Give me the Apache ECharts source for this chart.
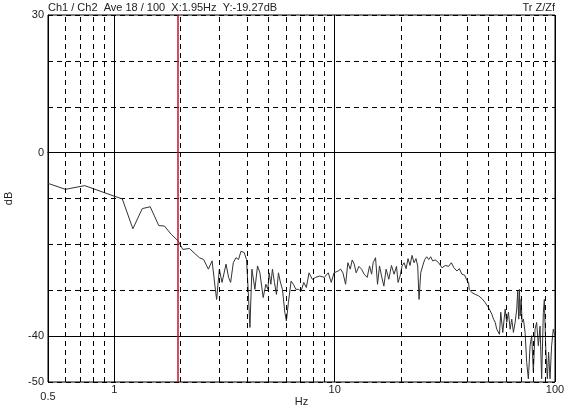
<!DOCTYPE html>
<html>
<head>
<meta charset="utf-8">
<script src="https://cdn.jsdelivr.net/npm/echarts@6/dist/echarts.min.js"></script>
<style>
  html, body { margin: 0; padding: 0; background: #fff; }
  #chart { width: 570px; height: 414px; }
</style>
</head>
<body>
<div id="chart"></div>
<script>
// Transfer function magnitude
var freqs = [
    0.5, 0.6, 0.734, 1.0, 1.087, 1.214, 1.339, 1.455, 1.591, 1.689, 1.811, 1.95,
    2.044, 2.191, 2.432, 2.543, 2.672, 2.777, 2.864, 2.913, 2.996, 3.082, 3.213, 3.301,
    3.371, 3.467, 3.565, 3.663, 3.756, 3.887, 3.981, 4.053, 4.125, 4.211, 4.345, 4.465,
    4.578, 4.738, 4.873, 4.975, 5.043, 5.133, 5.219, 5.33, 5.442, 5.557, 5.656, 5.793,
    5.94, 6.039, 6.166, 6.343, 6.497, 6.661, 6.844, 7.039, 7.239, 7.438, 7.65, 7.917,
    8.204, 8.553, 8.973, 9.354, 9.652, 9.927, 10.38, 10.64, 10.9, 11.21, 11.48, 11.77,
    12.01, 12.27, 12.52, 12.88, 13.25, 13.61, 14.05, 14.4, 14.71, 14.95, 15.33, 15.65,
    15.98, 16.32, 16.72, 17.12, 17.61, 18.11, 18.61, 19.08, 19.4, 19.81, 20.23, 20.65,
    21.09, 21.53, 21.98, 22.45, 22.92, 23.4, 23.82, 24.15, 24.58, 25.09, 25.62, 26.16,
    26.71, 27.27, 27.85, 28.64, 29.65, 30.69, 31.79, 32.9, 33.84, 34.77, 35.88, 36.79,
    37.8, 38.88, 39.81, 40.52, 40.82, 41.94, 43.45, 44.97, 46.55, 48.23, 49.92, 51.67,
    52.59, 53.54, 54.42, 55.98, 56.74, 57.94, 59.4, 60.39, 61.47, 62.57, 63.63, 64.76,
    65.92, 67.03, 67.74, 68.45, 68.95, 69.45, 70.19, 70.92, 71.9, 73.18, 74.38, 75.71,
    77.06, 78.36, 79.76, 81.19, 82.55, 84.03, 85.53, 86.98, 88.54, 89.46, 90.69, 92.32,
    93.54, 94.93, 96.51, 98.24, 100
];
var gainDb = [
    -6.7, -8.0, -7.2, -9.5, -10.1, -16.6, -12.2, -11.8, -15.9, -16.0, -17.8, -19.27,
    -21.1, -20.9, -22.9, -23.3, -25.4, -23.6, -29.1, -32.0, -25.4, -28.3, -24.3, -27.2,
    -28.3, -24.0, -22.9, -23.3, -21.5, -21.8, -23.3, -30.2, -38.1, -25.4, -29.8, -24.7,
    -26.2, -31.6, -28.7, -29.8, -26.2, -28.7, -25.4, -28.3, -30.9, -26.2, -28.0, -29.8,
    -34.8, -36.7, -32.7, -28.0, -28.7, -29.8, -29.8, -30.2, -28.3, -29.4, -26.2, -27.6,
    -27.2, -26.9, -27.2, -26.2, -28.3, -26.2, -25.8, -25.4, -26.2, -28.7, -24.0, -25.4,
    -23.4, -24.3, -26.2, -24.8, -25.4, -26.5, -27.2, -24.7, -26.5, -24.0, -22.9, -28.7,
    -24.7, -26.9, -29.1, -25.4, -27.6, -24.6, -26.5, -24.8, -28.3, -26.9, -24.7, -24.0,
    -25.3, -23.1, -24.6, -22.4, -24.0, -23.1, -24.7, -32.0, -26.2, -24.7, -23.3, -22.7,
    -23.3, -22.7, -23.6, -23.4, -24.0, -25.1, -24.6, -24.8, -24.0, -25.1, -25.8, -25.3,
    -26.5, -26.7, -27.8, -28.3, -29.8, -30.5, -30.9, -31.2, -31.8, -32.7, -33.8, -35.2,
    -36.3, -37.0, -38.5, -39.6, -34.8, -39.2, -34.1, -37.0, -34.8, -38.5, -36.3, -39.2,
    -37.0, -34.1, -30.2, -36.3, -29.8, -35.6, -32.0, -37.0, -36.3, -39.2, -45.7, -49.3,
    -42.1, -39.9, -47.9, -38.5, -37.0, -42.1, -37.8, -49.3, -34.8, -32.0, -42.1, -49.3,
    -43.5, -49.3, -42.1, -38.5, -40.0
];

// grid decoration
var minorFreqs = [0.6, 0.7, 0.8, 0.9, 2, 3, 4, 5, 6, 7, 8, 9, 20, 30, 40, 50, 60, 70, 80, 90];
var solidDb = [0, -40];
var shownDbLabels = [30, 0, -40, -50];
var cursorHz = 1.95;

var headerLeft = 'Ch1 / Ch2  Ave 18 / 100  X:1.95Hz  Y:-19.27dB';
var headerRight = 'Tr Z/Zf';

var FONT = '"Liberation Sans", Arial, sans-serif';
var dash = [5, 4];

var chart = echarts.init(document.getElementById('chart'), null, { renderer: 'canvas' });

chart.setOption({
    animation: false,
    backgroundColor: '#fff',
    textStyle: { fontFamily: FONT },
    title: [
        { text: headerLeft, left: 48, top: 2, padding: 0, textStyle: { fontSize: 11, fontWeight: 'normal', color: '#222', fontFamily: FONT } },
        { text: headerRight, right: 15, top: 2, padding: 0, textStyle: { fontSize: 11, fontWeight: 'normal', color: '#222', fontFamily: FONT } }
    ],
    grid: {
        left: 48, right: 15, top: 15, bottom: 32,
        outerBoundsMode: 'none',
        containLabel: false,
        show: true, borderColor: '#000', borderWidth: 1, backgroundColor: 'transparent'
    },
    xAxis: {
        type: 'log',
        logBase: 10,
        min: 0.5,
        max: 100,
        name: 'Hz',
        nameLocation: 'middle',
        nameGap: 14,
        nameMoveOverlap: false,
        nameTextStyle: { fontSize: 11, color: '#222' },
        axisLine: { show: true, lineStyle: { color: '#000', width: 1 } },
        axisTick: { show: false },
        axisLabel: {
            margin: 2,
            fontSize: 11,
            color: '#222',
            showMinLabel: true,
            showMaxLabel: true,
            formatter: function(v) {
                if (v < 0.75) return '{low|0.5}';
                return String(Math.round(v));
            },
            rich: { low: { fontSize: 11, color: '#222', padding: [7, 0, 0, 0] } }
        },
        splitLine: { show: true, lineStyle: { color: '#000', width: 1, type: 'solid' } }
    },
    yAxis: {
        type: 'value',
        min: -50,
        max: 30,
        interval: 10,
        name: 'dB',
        nameLocation: 'middle',
        nameGap: 34,
        nameMoveOverlap: false,
        nameTextStyle: { fontSize: 11, color: '#222' },
        axisLine: { show: true, lineStyle: { color: '#000', width: 1 } },
        axisTick: { show: false },
        axisLabel: {
            margin: 4,
            fontSize: 11,
            color: '#222',
            formatter: function(v) {
                return shownDbLabels.indexOf(v) >= 0 ? String(v) : '';
            }
        },
        splitLine: { show: true, lineStyle: { color: '#000', width: 1, type: dash } }
    },
    series: [
        {
            name: 'grid',
            type: 'line',
            data: [],
            silent: true,
            z: 1,
            markLine: {
                silent: true,
                symbol: ['none', 'none'],
                label: { show: false },
                lineStyle: { color: '#000', width: 1, type: dash },
                data: minorFreqs.map(function(f) { return { xAxis: f }; })
            }
        },
        {
            name: 'gridSolid',
            type: 'line',
            data: [],
            silent: true,
            z: 1,
            markLine: {
                silent: true,
                symbol: ['none', 'none'],
                label: { show: false },
                lineStyle: { color: '#000', width: 1, type: 'solid' },
                data: solidDb.map(function(d) { return { yAxis: d }; })
            }
        },
        {
            name: 'Tr Z/Zf',
            type: 'line',
            data: freqs.map(function(f, i) { return [f, gainDb[i]]; }),
            showSymbol: false,
            symbol: 'none',
            z: 3,
            lineStyle: { color: '#333', width: 1 },
            markLine: {
                silent: true,
                symbol: ['none', 'none'],
                label: { show: false },
                lineStyle: { color: '#c8102e', width: 1.5, type: 'solid' },
                data: [{ xAxis: cursorHz }]
            }
        }
    ]
});
</script>
</body>
</html>
